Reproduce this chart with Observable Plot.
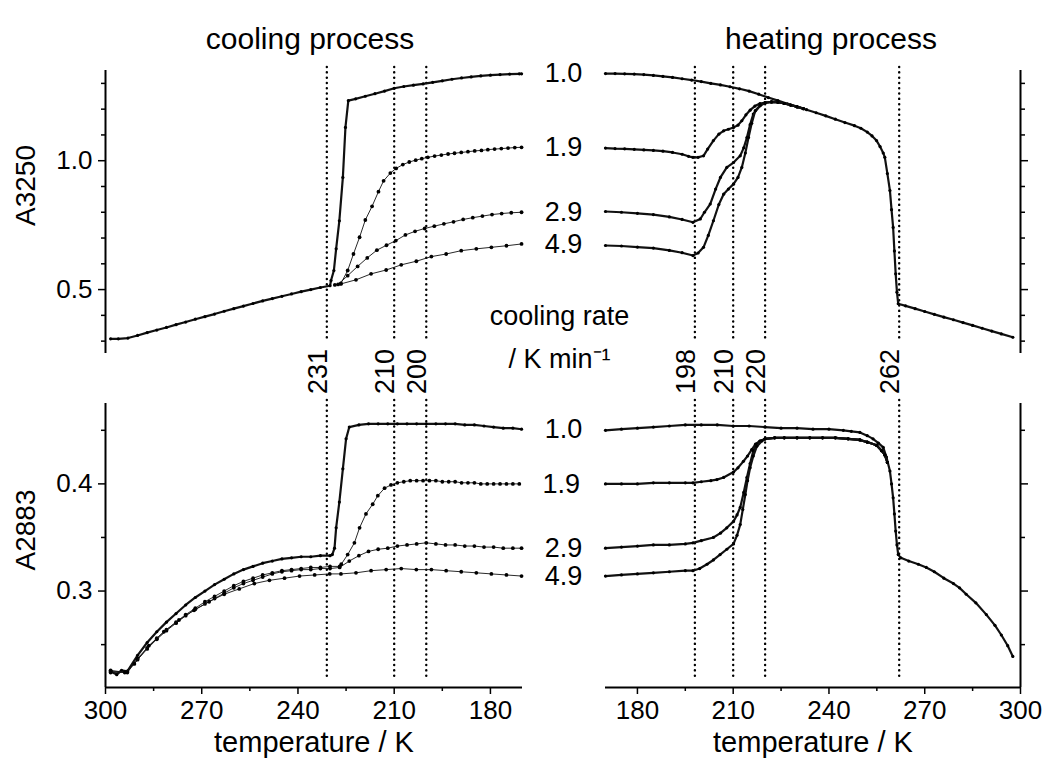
<!DOCTYPE html>
<html><head><meta charset="utf-8">
<script src="https://cdn.jsdelivr.net/npm/d3@7"></script>
<script src="https://cdn.jsdelivr.net/npm/@observablehq/plot@0.6"></script>
<style>
body{margin:0;background:#fff;}
#fig{position:relative;width:1051px;height:767px;overflow:hidden;background:#fff;}
#fig svg{position:absolute;left:0;top:0;}
</style></head><body><div id="fig"></div><script>
// ---------- labels / categories ----------
const rateNames = ["1.0", "1.9", "2.9", "4.9"];
const coolMarks = [231, 210, 200];
const heatMarks = [198, 210, 220, 262];
const yTopMajor = [0.5, 1.0];
const yTopMinor = [0.3, 0.4, 0.6, 0.7, 0.8, 0.9, 1.1, 1.2, 1.3];
const yBotMajor = [0.3, 0.4];
const yBotMinor = [0.25, 0.35, 0.45];
const xCoolMajor = [300, 270, 240, 210, 180];
const xHeatMajor = [180, 210, 240, 270, 300];
const xMinor = [285, 255, 225, 195];

// ---------- cooling, A3250 ----------
const coolTopShared = [[298.4,0.309],[296,0.309],[293,0.312],[290,0.322],[287,0.333],[284,0.343],[281,0.353],[278,0.364],[275,0.374],[272,0.385],[269,0.395],[266,0.405],[263,0.416],[260,0.426],[257,0.436],[254,0.446],[251,0.456],[248,0.465],[245,0.474],[242,0.483],[239,0.492],[236,0.500],[233,0.508],[230,0.515]];
const coolTop10 = [[229.7,0.535],[228.8,0.574],[228.1,0.658],[227.1,0.767],[226,0.935],[225.2,1.129],[224.3,1.233],[222,1.24],[219,1.25],[216,1.26],[213,1.27],[210,1.281],[207,1.288],[204,1.293],[201,1.298],[198,1.304],[195,1.31],[192,1.316],[189,1.321],[186,1.325],[183,1.329],[180,1.332],[177,1.334],[174,1.336],[171,1.337],[170.3,1.337]];
const coolTop19 = [[228.5,0.518],[226.6,0.524],[224.5,0.574],[222.7,0.638],[220.8,0.703],[219,0.770],[216.9,0.823],[214.9,0.880],[213.3,0.922],[211.2,0.952],[209.4,0.970],[207.3,0.985],[205.3,0.995],[203.3,1.002],[201.4,1.008],[199.5,1.013],[197.4,1.018],[195.3,1.022],[193.2,1.026],[191.2,1.029],[189.1,1.032],[187,1.035],[184.9,1.038],[182.8,1.040],[180.8,1.043],[178.7,1.045],[176.6,1.047],[174.5,1.049],[172.4,1.051],[170.3,1.052]];
const coolTop29 = [[227.5,0.52],[224.5,0.554],[221.4,0.59],[218.4,0.623],[215.4,0.653],[212.4,0.672],[209.5,0.69],[206.5,0.712],[203.5,0.726],[200.5,0.737],[197.5,0.746],[194.5,0.755],[191.5,0.763],[188.5,0.772],[185.5,0.779],[182.5,0.785],[179.5,0.791],[176.5,0.795],[173.5,0.798],[170.3,0.800]];
const coolTop49 = [[226.6,0.522],[221.9,0.538],[217.2,0.561],[212.5,0.576],[207.8,0.596],[203.1,0.610],[198.4,0.628],[193.8,0.638],[189.1,0.651],[184.4,0.658],[179.7,0.664],[175,0.670],[170.3,0.677]];

// ---------- heating, A3250 ----------
const heatTop10 = [[170,1.338],[173,1.338],[176,1.337],[179,1.336],[182,1.334],[185,1.331],[188,1.327],[191,1.323],[194,1.318],[197,1.313],[200,1.307],[203,1.300],[206,1.294],[209,1.287],[212,1.279],[215,1.270],[218,1.258],[221,1.245],[224,1.233],[227,1.221],[230,1.210],[233,1.198],[236,1.186],[239,1.174],[242,1.161],[245,1.148],[248,1.136],[250,1.126],[252,1.111],[253.5,1.096],[254.9,1.078],[256,1.055],[257,1.03],[257.5,1.013],[258.3,0.95],[259.1,0.884],[259.6,0.81],[260.1,0.741],[260.5,0.65],[260.9,0.561],[261.3,0.49],[261.7,0.445],[264,0.437],[267,0.426],[270,0.415],[273,0.404],[276,0.393],[279,0.383],[282,0.372],[285,0.361],[288,0.350],[291,0.339],[294,0.328],[297.6,0.315]];
const heatTopMerge = [[220,1.225],[222,1.228],[224,1.227],[226,1.222],[228,1.216],[230,1.209],[232,1.202]];
const heatTop19 = [[170,1.049],[173,1.047],[176,1.046],[179,1.044],[182,1.042],[185,1.040],[188,1.037],[191,1.032],[194,1.025],[196,1.017],[197.4,1.013],[199,1.013],[200.7,1.019],[202,1.045],[203.8,1.078],[205.5,1.103],[207,1.116],[208.5,1.122],[210.1,1.129],[211.5,1.138],[212.7,1.155],[214,1.178],[215.3,1.196],[216.8,1.212],[218.4,1.222]];
const heatTop29 = [[170,0.803],[175,0.800],[180,0.796],[185,0.791],[190,0.782],[194,0.772],[197.4,0.761],[199.7,0.774],[201,0.8],[202.8,0.832],[204.5,0.89],[206,0.935],[208,0.974],[210.1,0.993],[212.2,1.019],[213.3,1.05],[214.3,1.09],[215.3,1.14],[216.3,1.181],[218.4,1.213]];
const heatTop49 = [[170,0.671],[175,0.669],[180,0.665],[185,0.661],[190,0.652],[194,0.643],[197.4,0.632],[199,0.642],[200.7,0.664],[202.2,0.71],[203.8,0.767],[205.5,0.83],[207,0.870],[208.5,0.89],[210.1,0.909],[211.5,0.935],[212.7,0.974],[213.8,1.03],[214.8,1.090],[215.8,1.145],[216.9,1.194],[218.5,1.215]];

// ---------- cooling, A2883 ----------
const coolBot10 = [[298.4,0.225],[296.5,0.222],[295,0.226],[293.2,0.225],[290,0.240],[287,0.252],[284,0.262],[281,0.271],[278,0.279],[275,0.287],[272,0.294],[269,0.300],[266,0.306],[263,0.311],[260,0.316],[257,0.320],[254,0.323],[251,0.326],[248,0.328],[245,0.330],[242,0.331],[239,0.332],[236,0.332],[233,0.333],[230,0.333],[229.3,0.334],[228.6,0.340],[228.1,0.359],[227.1,0.383],[226,0.414],[225,0.442],[224,0.453],[221,0.455],[218,0.456],[215,0.456],[212,0.456],[209,0.456],[206,0.456],[203,0.456],[200,0.456],[197,0.456],[194,0.456],[191,0.456],[188,0.455],[185,0.455],[182,0.454],[179,0.453],[176,0.452],[173,0.452],[170.3,0.451]];
const coolBot19 = [[298.4,0.225],[293.2,0.225],[290,0.237],[287,0.247],[284,0.256],[281,0.264],[278,0.271],[275,0.278],[272,0.284],[269,0.290],[266,0.295],[263,0.300],[260,0.305],[257,0.309],[254,0.312],[251,0.315],[248,0.317],[245,0.319],[242,0.320],[239,0.321],[236,0.322],[233,0.322],[230,0.323],[227,0.323],[226.5,0.325],[224.5,0.334],[222.4,0.345],[220.8,0.359],[218.8,0.372],[216.7,0.381],[215.1,0.389],[213,0.396],[211,0.399],[209,0.401],[207,0.402],[205,0.403],[203,0.403],[201,0.403],[199,0.403],[197,0.403],[195,0.402],[193,0.402],[191,0.402],[189,0.401],[187,0.401],[185,0.401],[183,0.400],[181,0.400],[179,0.400],[177,0.400],[175,0.400],[173,0.400],[171,0.400]];
const coolBot29 = [[298.4,0.224],[293.2,0.224],[290,0.236],[287,0.246],[284,0.255],[281,0.263],[278,0.270],[275,0.277],[272,0.283],[269,0.288],[266,0.293],[263,0.298],[260,0.303],[257,0.307],[254,0.310],[251,0.313],[248,0.316],[245,0.318],[242,0.319],[239,0.320],[236,0.320],[233,0.321],[230,0.321],[227,0.322],[224,0.328],[221,0.333],[218,0.337],[215,0.339],[212,0.340],[209,0.342],[206,0.343],[203,0.344],[200,0.345],[197,0.344],[194,0.343],[191,0.343],[188,0.342],[185,0.342],[182,0.341],[179,0.341],[176,0.340],[173,0.340],[170.3,0.340]];
const coolBot49 = [[298.4,0.226],[294,0.224],[291,0.232],[286.5,0.249],[281.8,0.262],[277.1,0.273],[272.4,0.282],[267.7,0.290],[263,0.297],[258.3,0.302],[253.6,0.307],[248.9,0.310],[244.2,0.312],[239.5,0.314],[234.8,0.315],[230.1,0.316],[226.6,0.316],[221.9,0.317],[217.2,0.319],[212.5,0.320],[207.8,0.321],[203.1,0.320],[198.4,0.320],[193.8,0.319],[189.1,0.318],[184.4,0.317],[179.7,0.316],[175,0.315],[170.3,0.314]];

// ---------- heating, A2883 ----------
const heatBot10 = [[170,0.450],[175,0.451],[180,0.452],[185,0.453],[190,0.454],[195,0.455],[200,0.455],[205,0.455],[210,0.454],[215,0.454],[220,0.453],[225,0.452],[230,0.452],[235,0.451],[240,0.451],[244.5,0.450],[247,0.449],[249.7,0.448],[252,0.445],[253.8,0.442],[255.5,0.438],[257,0.434],[258,0.425],[259.1,0.412],[259.6,0.400],[260.1,0.387],[260.5,0.372],[260.9,0.356],[261.3,0.343],[261.7,0.334],[262.5,0.331],[265,0.328],[268,0.325],[270.5,0.322],[273,0.318],[276,0.312],[279,0.307],[280.9,0.303],[283,0.297],[286,0.289],[289.3,0.278],[292,0.268],[294,0.259],[296,0.249],[297.6,0.239]];
const heatBotPlateau = [[220,0.442],[223,0.443],[226,0.443],[230,0.443],[234,0.443],[238,0.443],[242,0.443],[246,0.442],[249.7,0.441],[252,0.439],[254.9,0.436],[256.5,0.431],[257.5,0.427],[258.3,0.42]];
const heatBot19 = [[170,0.400],[175,0.400],[180,0.400],[185,0.401],[190,0.401],[195,0.401],[197.4,0.401],[200,0.402],[203,0.403],[204.9,0.404],[207,0.406],[210.1,0.411],[211.5,0.415],[213.2,0.421],[214.5,0.426],[215.8,0.432],[217,0.437],[218.4,0.440]];
const heatBot29 = [[170,0.340],[175,0.341],[180,0.342],[185,0.343],[190,0.343],[195,0.344],[197.4,0.345],[200,0.347],[203.8,0.350],[206,0.354],[208,0.359],[210.1,0.365],[211.2,0.371],[212.2,0.378],[213.3,0.392],[214.3,0.406],[215.3,0.419],[216.3,0.431],[217.4,0.437],[218.4,0.440]];
const heatBot49 = [[170,0.314],[175,0.315],[180,0.316],[185,0.317],[190,0.318],[195,0.319],[197.4,0.319],[199.5,0.321],[201.8,0.325],[203.8,0.329],[205.9,0.334],[208,0.339],[210.1,0.344],[211.2,0.352],[212.2,0.362],[213,0.376],[213.8,0.390],[214.5,0.403],[215.3,0.415],[216.3,0.426],[217.4,0.435],[219,0.440]];

// ---------- build ----------
const W = 1051, H = 767;
const FONT = "'Liberation Sans', Arial, Helvetica, sans-serif";
const fig = document.getElementById("fig");
const INK = "#111";

const coolTop = [
  {name: rateNames[0], pts: coolTopShared.concat(coolTop10), dense: true},
  {name: rateNames[1], pts: coolTop19, dense: false},
  {name: rateNames[2], pts: coolTop29, dense: false},
  {name: rateNames[3], pts: coolTop49, dense: false}
];
const heatTop = [
  {name: rateNames[0], pts: heatTop10, dense: true},
  {name: rateNames[1], pts: heatTop19.concat(heatTopMerge), dense: true},
  {name: rateNames[2], pts: heatTop29.concat(heatTopMerge), dense: true},
  {name: rateNames[3], pts: heatTop49.concat(heatTopMerge), dense: true}
];
const coolBot = [
  {name: rateNames[0], pts: coolBot10, dense: true},
  {name: rateNames[1], pts: coolBot19, dense: false},
  {name: rateNames[2], pts: coolBot29, dense: false},
  {name: rateNames[3], pts: coolBot49, dense: false}
];
const heatBot = [
  {name: rateNames[0], pts: heatBot10, dense: true},
  {name: rateNames[1], pts: heatBot19.concat(heatBotPlateau), dense: true},
  {name: rateNames[2], pts: heatBot29.concat(heatBotPlateau), dense: true},
  {name: rateNames[3], pts: heatBot49.concat(heatBotPlateau), dense: true}
];

function seriesMarks(list) {
  const m = [];
  for (const s of list) {
    const d = s.pts.map(([T, A]) => ({T, A}));
    m.push(Plot.line(d, {x: "T", y: "A", stroke: INK, strokeWidth: s.dense ? 2.2 : 0.9}));
    m.push(Plot.dot(d, {x: "T", y: "A", fill: "#000", stroke: "none", r: s.dense ? 1.6 : 1.9}));
  }
  return m;
}

function yAxes(major, minor, anchor, labels) {
  return [
    Plot.axisY(major, {anchor, tickSize: 7, tickPadding: 6, strokeWidth: 1.5, label: null, fontSize: 26,
      tickFormat: labels ? d3.format(".1f") : () => ""}),
    Plot.axisY(minor, {anchor, tickSize: 4, strokeWidth: 1.5, label: null, tickFormat: () => ""})
  ];
}
function xAxes(major) {
  return [
    Plot.axisX(major, {anchor: "bottom", tickSize: 7, tickPadding: 6, strokeWidth: 1.5, label: null, fontSize: 26,
      tickFormat: d => String(d)}),
    Plot.axisX(xMinor, {anchor: "bottom", tickSize: 4, strokeWidth: 1.5, label: null, tickFormat: () => ""})
  ];
}
function vlines(vals, insetBottom) {
  return Plot.ruleX(vals, {stroke: "#000", strokeWidth: 2.4, strokeDasharray: "0.1,5.2", strokeLinecap: "round",
    insetTop: -3, insetBottom});
}

function panel(p, marks) {
  const svg = Plot.plot({
    width: W, height: H,
    marginLeft: p.ml, marginRight: W - p.xr, marginTop: p.yt, marginBottom: H - p.yb,
    x: {domain: p.xd, axis: null},
    y: {domain: p.yd, axis: null},
    style: {background: "transparent", overflow: "visible", fontFamily: FONT, fontSize: "25px", color: "#000"},
    marks
  });
  fig.appendChild(svg);
}

const topY = [0.252, 1.35];
const botY = [0.21, 0.475];
const last = s => s.pts[s.pts.length - 1];

// top-left: cooling A3250
panel({ml: 105, xr: 522, yt: 70, yb: 353, xd: [300, 170], yd: topY}, [
  vlines(coolMarks, 15),
  ...seriesMarks(coolTop),
  Plot.ruleX([300], {stroke: "#000", strokeWidth: 2}),
  ...yAxes(yTopMajor, yTopMinor, "left", true),
  Plot.text(coolMarks, {x: d => d, text: d => String(d), frameAnchor: "bottom", dy: 18, rotate: -90, fontSize: 27, fill: "#000"}),
  Plot.text(coolTop, {x: s => last(s)[0], y: s => last(s)[1], text: "name", dx: 42, fontSize: 27, fill: "#000"}),
  Plot.text(["cooling rate"], {x: [coolTop[0].pts.at(-1)[0]], frameAnchor: "bottom", dx: 38, dy: -29, fontSize: 27, fill: "#000"}),
  Plot.text(["/ K min\u207B\u00B9"], {x: [coolTop[0].pts.at(-1)[0]], frameAnchor: "bottom", dx: 38, dy: 14, fontSize: 27, fill: "#000"}),
  Plot.text(["cooling process"], {frameAnchor: "top", dx: -4, dy: -43, fontSize: 30, fill: "#000"}),
  Plot.text(["A3250"], {frameAnchor: "left", dx: -79, dy: 14, rotate: -90, fontSize: 28, fill: "#000"})
]);

// top-right: heating A3250
panel({ml: 605, xr: 1020, yt: 70, yb: 353, xd: [170, 300], yd: topY}, [
  vlines(heatMarks, 15),
  ...seriesMarks(heatTop),
  Plot.ruleX([300], {stroke: "#000", strokeWidth: 2}),
  ...yAxes(yTopMajor, yTopMinor, "right", false),
  Plot.text(heatMarks, {x: d => d, text: d => String(d), frameAnchor: "bottom", dy: 18, rotate: -90, fontSize: 27, fill: "#000"}),
  Plot.text(["heating process"], {frameAnchor: "top", dx: 18, dy: -43, fontSize: 30, fill: "#000"})
]);

// bottom-left: cooling A2883
panel({ml: 105, xr: 522, yt: 403, yb: 687, xd: [300, 170], yd: botY}, [
  vlines(coolMarks, 7),
  ...seriesMarks(coolBot),
  Plot.ruleX([300], {stroke: "#000", strokeWidth: 2}),
  Plot.ruleY([botY[0]], {stroke: "#000", strokeWidth: 2}),
  ...yAxes(yBotMajor, yBotMinor, "left", true),
  ...xAxes(xCoolMajor),
  Plot.text(coolBot, {x: s => last(s)[0], y: s => last(s)[1], text: "name", dx: 42, fontSize: 27, fill: "#000"}),
  Plot.text(["temperature / K"], {frameAnchor: "bottom", dy: 64, fontSize: 29, fill: "#000"}),
  Plot.text(["A2883"], {frameAnchor: "left", dx: -79, dy: 25, rotate: -90, fontSize: 28, fill: "#000"})
]);

// bottom-right: heating A2883
panel({ml: 605, xr: 1020, yt: 403, yb: 687, xd: [170, 300], yd: botY}, [
  vlines(heatMarks, 7),
  ...seriesMarks(heatBot),
  Plot.ruleX([300], {stroke: "#000", strokeWidth: 2}),
  Plot.ruleY([botY[0]], {stroke: "#000", strokeWidth: 2}),
  ...yAxes(yBotMajor, yBotMinor, "right", false),
  ...xAxes(xHeatMajor),
  Plot.text(["temperature / K"], {frameAnchor: "bottom", dy: 64, fontSize: 29, fill: "#000"})
]);
</script></body></html>
